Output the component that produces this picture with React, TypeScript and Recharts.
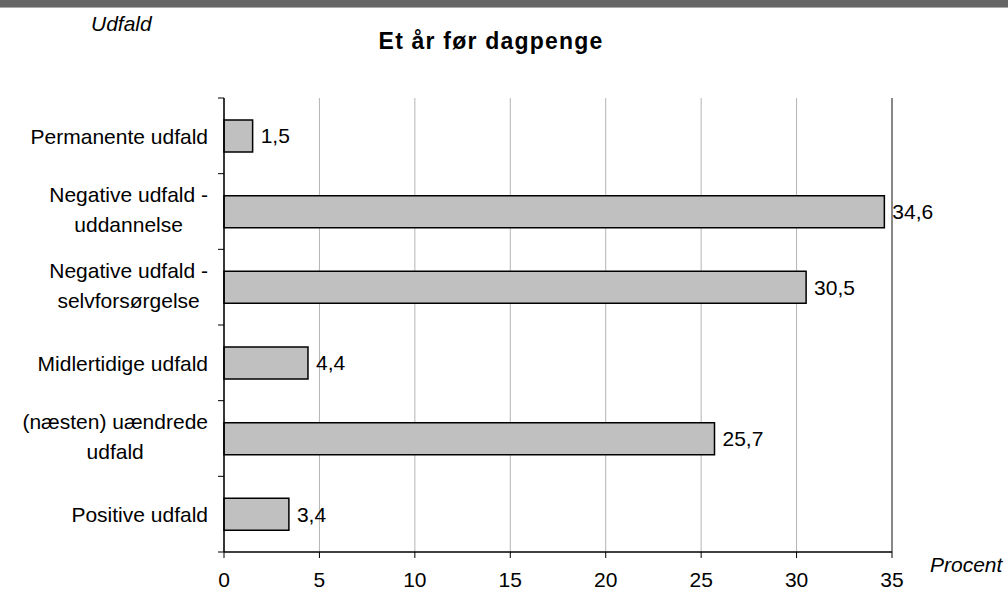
import React from 'react';
import { BarChart, Bar, XAxis, YAxis, CartesianGrid, LabelList, ReferenceLine } from 'recharts';

const categories = [
  'Permanente udfald',
  'Negative udfald -\nuddannelse',
  'Negative udfald -\nselvforsørgelse',
  'Midlertidige udfald',
  '(næsten) uændrede\nudfald',
  'Positive udfald',
];
const values = [1.5, 34.6, 30.5, 4.4, 25.7, 3.4];
const xTicks = [0, 5, 10, 15, 20, 25, 30, 35];
const title = 'Et år før dagpenge';
const yTitle = 'Udfald';
const xTitle = 'Procent';

const data = categories.map((name, i) => ({ name, value: values[i] }));

const FONT = "'Liberation Sans', Arial, sans-serif";
const FS = 21;

let ctx: CanvasRenderingContext2D | null = null;
function measure(s: string): number {
  if (!ctx) {
    const c = document.createElement('canvas');
    ctx = c.getContext('2d');
  }
  if (!ctx) return s.length * FS * 0.5;
  ctx.font = `${FS}px ${FONT}`;
  return ctx.measureText(s).width;
}

const YTick = (props: any) => {
  const { x, y, payload, index } = props;
  const lines: string[] = String(payload.value).split('\n');
  const maxW = Math.max(...lines.map(measure));
  const right = x - 10;
  const cx = right - maxW / 2;
  const half = payload.offset ?? 0;
  const lh = 30;
  const base = lines.length === 1 ? y + 8 : y + 5.5 - ((lines.length - 1) * lh) / 2;
  const isLast = index === categories.length - 1;
  return (
    <g>
      <line x1={x} x2={x + 6} y1={y - half} y2={y - half} stroke="#000" strokeWidth={1} />
      {isLast && <line x1={x} x2={x + 6} y1={y + half} y2={y + half} stroke="#000" strokeWidth={1} />}
      {lines.map((l, i) => (
        <text key={i} x={cx} y={base + i * lh} textAnchor="middle" fontSize={FS} fontFamily={FONT} fill="#000">
          {l}
        </text>
      ))}
    </g>
  );
};

const XTick = (props: any) => {
  const { x, y, payload } = props;
  return (
    <text x={x} y={y + 29} textAnchor="middle" fontSize={FS} fontFamily={FONT} fill="#000">
      {payload.value}
    </text>
  );
};

const fmt = (v: any) => String(v).replace('.', ',');

export default function App() {
  return (
    <div style={{ position: 'absolute', left: 0, top: 0, width: 1008, height: 592, background: '#fff' }}>
      <div style={{ position: 'absolute', left: 0, top: 0, width: 1008, height: 7, background: '#666', borderBottom: '1px solid #aaa' }} />
      <BarChart
        width={1008}
        height={592}
        data={data}
        layout="vertical"
        margin={{ top: 98, right: 116, bottom: 0, left: 0 }}
      >
        <CartesianGrid horizontal={false} vertical={true} stroke="#b4b4b4" strokeWidth={1} />
        <XAxis
          type="number"
          dataKey="value"
          domain={[0, 35]}
          ticks={xTicks}
          interval={0}
          height={40}
          axisLine={{ stroke: '#000', strokeWidth: 1.5 }}
          tickLine={{ stroke: '#000', strokeWidth: 1 }}
          tickSize={6}
          tickMargin={0}
          tick={<XTick />}
        />
        <XAxis
          xAxisId="top"
          orientation="top"
          type="number"
          domain={[0, 35]}
          height={0}
          tick={false}
          tickLine={false}
          axisLine={{ stroke: '#b4b4b4', strokeWidth: 1.5 }}
        />
        <YAxis
          type="category"
          dataKey="name"
          width={224}
          interval={0}
          axisLine={{ stroke: '#000', strokeWidth: 1.5 }}
          tickLine={false}
          tickSize={6}
          tickMargin={0}
          tick={<YTick />}
        />
        <ReferenceLine x={35} stroke="#888" strokeWidth={2} />
        <Bar dataKey="value" fill="#c0c0c0" stroke="#000" strokeWidth={1.5} barSize={32} isAnimationActive={false}>
          <LabelList
            dataKey="value"
            position="right"
            offset={8}
            formatter={fmt}
            fontSize={FS}
            fontFamily={FONT}
            fill="#000"
          />
        </Bar>
      </BarChart>
      <svg width={1008} height={592} style={{ position: 'absolute', left: 0, top: 0, pointerEvents: 'none' }}>
        <text x={91} y={31} fontSize={21} fontStyle="italic" fontFamily={FONT} fill="#000">{yTitle}</text>
        <text x={491} y={49} textAnchor="middle" fontSize={23} fontWeight="bold" letterSpacing={1.2} fontFamily={FONT} fill="#000">{title}</text>
        <text x={930} y={572} fontSize={21} fontStyle="italic" fontFamily={FONT} fill="#000">{xTitle}</text>
      </svg>
    </div>
  );
}
